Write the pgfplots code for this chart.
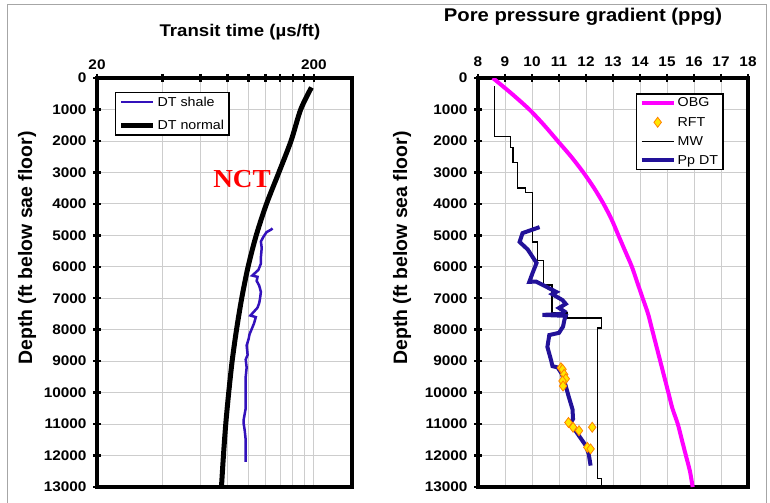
\documentclass[border=0pt]{standalone}
\usepackage{pgfplots}
\pgfplotsset{compat=1.18}
\usepackage{fontspec}
\setmainfont{Liberation Sans}[FakeStretch=1.1]
\newfontfamily\ylfont{Liberation Sans}
\newfontfamily\nctfont{Liberation Serif}[FakeStretch=1.05]
\definecolor{shale}{RGB}{51,17,187}
\definecolor{ppdt}{RGB}{34,17,153}
\definecolor{obg}{RGB}{255,0,255}
\definecolor{rftfill}{RGB}{255,230,0}
\definecolor{rftedge}{RGB}{255,130,0}
\definecolor{gridc}{RGB}{205,205,205}
\pgfplotsset{
  panel/.style={
    scale only axis,
    y dir=reverse,
    ymin=0, ymax=13000,
    ytick={0,1000,...,13000},
    yticklabels={0,1000,2000,3000,4000,5000,6000,7000,8000,9000,10000,11000,12000,13000},
    scaled y ticks=false,
    axis line style={line width=3.5bp},
    xtick pos=upper, ytick pos=lower, xticklabel pos=upper,
    tick align=center,
    major tick length=8bp, minor tick length=8bp,
    every tick/.style={line width=2.5bp, black},
    tick label style={font=\fontsize{14}{14}\selectfont\bfseries},
    ymajorgrids, xmajorgrids,
    major grid style={gridc, line width=0.8bp},
    minor grid style={gridc, line width=0.8bp},
    legend cell align=left,
    legend image code/.code={\draw[mark repeat=2,mark phase=2,##1] (0bp,0bp) -- (16bp,0bp) -- (32bp,0bp);},
    legend style={font=\fontsize{13}{13}\selectfont, draw=black, line width=1.5bp, inner xsep=3bp, inner ysep=2bp, anchor=north west,
      /tikz/every even column/.append style={column sep=0bp}},
  },
  rftlegend/.style={legend image code/.code={\draw[##1] plot coordinates {(16bp,0bp)};}},
}
\begin{document}
\begin{tikzpicture}
\useasboundingbox (0,0) rectangle (770bp,503bp);
\draw[gray!70, line width=1bp] (7bp,-5bp) -- (7bp,498bp) -- (766bp,498bp) -- (766bp,-5bp);
% left panel
\begin{axis}[panel,
  at={(97bp,425bp)}, anchor=north west,
  width=255bp, height=409bp,
  xmode=log, xmin=20, xmax=300,
  xtick={20,200}, xticklabels={\textbf{20},\textbf{200}},
  minor xtick={40,60,80,100,120,140,160,180},
  xminorgrids,
  xticklabel style={yshift=1bp},
  yticklabel style={xshift=-3bp},
  legend style={at={(axis description cs:0.07,0.966)}, row sep=8.5bp},
]
\addplot[shale, line width=2.5bp] coordinates {
(129,4780) (127,4820) (121,4900) (117,5050) (114,5200) (115,5400) (114,5700) (114,5900)
(111,6100) (104,6280) (110,6320) (109,6450) (112,6600) (114,6800) (113,7000) (112,7150)
(110,7300) (102,7550) (108,7600) (106,7800) (101,8150) (100,8300) (98,8500) (99,8800)
(97,8950) (98,9200) (97,9500) (97,9800) (97,10200) (97,10500) (95,10850) (95,11000)
(96,11200) (97,11500) (97,11800) (97,12200)};
\addlegendentry{DT shale}
\addplot[black, line width=5bp, smooth] coordinates {
(195,300) (174,1000) (157,2000) (138,3000) (121,4000) (108.5,5000) (99.5,6000) (93,7000)
(88,8000) (84,9000) (81,10000) (78.5,11000) (76.6,12000) (75,13000)};
\addlegendentry{DT normal\hspace{5bp}}
\end{axis}
% right panel
\begin{axis}[panel,
  at={(478bp,425bp)}, anchor=north west,
  width=270bp, height=409bp,
  xmin=8, xmax=18,
  xtick={8,9,10,11,12,13,14,15,16,17,18},
  xticklabels={\textbf{8},\textbf{9},\textbf{10},\textbf{11},\textbf{12},\textbf{13},\textbf{14},\textbf{15},\textbf{16},\textbf{17},\textbf{18}},
  xticklabel style={yshift=4bp},
  yticklabel style={xshift=-3bp},
  legend style={at={(axis description cs:0.585,0.963)}, row sep=4.7bp},
]
\addplot[obg, line width=4bp, smooth] coordinates {
(8.55,0) (9.25,500) (9.9,1000) (10.45,1500) (10.95,2000) (11.45,2500) (11.9,3000)
(12.3,3500) (12.65,4000) (12.95,4500) (13.2,5000) (13.45,5500) (13.7,6000) (13.9,6500)
(14.1,7000) (14.3,7500) (14.45,8000) (14.6,8500) (14.75,9000) (14.9,9500) (15.05,10000)
(15.2,10500) (15.4,11000) (15.55,11500) (15.7,12000) (15.85,12500) (15.95,13000)};
\addlegendentry{OBG}
\addplot[only marks, mark=diamond*, mark size=5bp, mark options={fill=rftfill, draw=rftedge, line width=0.8bp},
  rftlegend] coordinates {
(11.07,9210) (11.13,9260) (11.19,9420) (11.25,9560) (11.13,9630) (11.15,9790)
(11.35,10950) (11.52,11100) (11.74,11210) (12.23,11100) (12.05,11740) (12.17,11790)};
\addlegendentry{RFT}
\addplot[black, line width=1.3bp] coordinates {
(8.6,260) (8.6,1860) (9.2,1860) (9.2,2210) (9.3,2210) (9.3,2680) (9.47,2680) (9.47,3500)
(9.75,3500) (9.75,3630) (10.02,3630) (10.02,5210) (10.21,5210) (10.21,5790) (10.42,5790)
(10.42,6580) (10.74,6580) (10.74,7470) (11.3,7470) (11.3,7630) (12.58,7630) (12.58,7950)
(12.42,7950) (12.42,12740) (12.58,12740) (12.58,13000)};
\addlegendentry{MW}
\addplot[ppdt, line width=4bp] coordinates {
(10.28,4740) (9.65,4930) (9.54,5210) (9.84,5450) (10.17,5880) (10.02,6200) (9.9,6480)
(10.15,6470) (10.54,6640) (10.9,6800) (10.75,6870) (11.13,7060) (11.25,7180) (11.0,7310)
(11.2,7420) (11.1,7500) (10.39,7530) (11.25,7560) (11.2,7690) (11.15,7900) (11.0,8100)
(10.64,8170) (10.57,8550) (10.7,8950) (10.76,9160) (10.95,9200) (11.1,9400) (11.25,9790)
(11.35,10100) (11.5,10530) (11.52,10840) (11.4,11000) (11.6,11200) (11.99,11680)
(12.1,11950) (12.17,12320)};
\addlegendentry{Pp DT\hspace{7bp}}
\end{axis}
% titles and labels
\node[font=\fontsize{17}{17}\selectfont\bfseries] at (240bp,471bp) {Transit time (µs/ft)};
\node[font=\fontsize{18.5}{18.5}\selectfont\bfseries] at (583bp,486bp) {Pore pressure gradient (ppg)};
\node[font=\ylfont\fontsize{19.5}{19.5}\selectfont\bfseries, rotate=90] at (27bp,255bp) {Depth (ft below sae floor)};
\node[font=\ylfont\fontsize{19.5}{19.5}\selectfont\bfseries, rotate=90] at (402bp,255bp) {Depth (ft below sea floor)};
\node[font=\nctfont\fontsize{26}{26}\selectfont\bfseries, text=red] at (242bp,324bp) {NCT};
\end{tikzpicture}
\end{document}
